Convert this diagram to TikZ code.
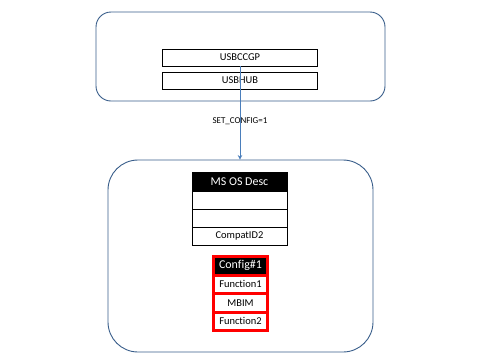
\documentclass[tikz,border=0pt]{standalone}
\usepackage{fontspec}
\setmainfont[Ligatures=NoCommon]{Carlito}
\usetikzlibrary{arrows.meta,positioning}
\definecolor{boxblue}{RGB}{56,93,138}
\definecolor{arrowblue}{RGB}{74,126,187}
\tikzset{
  hostbox/.style={rectangle, rounded corners=15bp, draw=boxblue, line width=0.9bp,
                  minimum width=289bp, minimum height=89bp},
  devbox/.style ={rectangle, rounded corners=30bp, draw=boxblue, line width=0.9bp,
                  minimum width=265bp, minimum height=192bp},
  drvcell/.style={rectangle, draw=black, line width=0.8bp, outer sep=0pt, inner sep=0pt,
                  minimum width=155bp, minimum height=17bp,
                  font=\fontsize{10.5}{12}\selectfont},
  desccell/.style={rectangle, draw=black, fill=white, line width=0.8bp, outer sep=0pt,
                   inner sep=0pt, minimum width=95bp, minimum height=18bp,
                   font=\fontsize{10.5}{12}\selectfont},
  deschead/.style={desccell, fill=black, text=white, minimum height=19bp,
                   font=\fontsize{12}{14}\selectfont},
  cfgcell/.style={rectangle, draw=red, fill=white, line width=3bp, outer sep=0pt,
                  inner sep=0pt, minimum width=54bp, minimum height=18.5bp,
                  font=\fontsize{10.5}{12}\selectfont},
  cfghead/.style={cfgcell, fill=black, text=white, font=\fontsize{12}{14}\selectfont},
  cfgline/.style={-{Stealth[length=4.5bp,width=4.5bp]}, arrowblue, line width=1bp},
}
\begin{document}
\begin{tikzpicture}[x=1bp,y=-1bp]
  \useasboundingbox (0,0) rectangle (480,360);
  % host side
  \node[hostbox] (host) at (240.5,56.5) {};
  \node[drvcell] (ccgp) at (240,57.5) {USBCCGP};
  \node[drvcell, below=6bp of ccgp] (hub) {USBHUB};
  % device side
  \node[devbox] (dev) at (240.5,256) {};
  \node[deschead] (desc) at (239.5,181.5) {MS OS Desc};
  \node[desccell, below=0pt of desc] (desc1) {};
  \node[desccell, below=0pt of desc1] (desc2) {};
  \node[desccell, below=0pt of desc2] (compat) {CompatID2};
  \node[cfghead] (cfg) at (240.5,265.75) {Config\#1};
  \node[cfgcell, below=0pt of cfg] (fn1) {Function1};
  \node[cfgcell, below=0pt of fn1] (mbim) {MBIM};
  \node[cfgcell, below=0pt of mbim] (fn2) {Function2};
  % request
  \draw[cfgline] (ccgp.south) -- (ccgp.south |- dev.north)
    node[pos=0.585, text=black, font=\fontsize{9}{11}\selectfont] {SET\_CONFIG=1};
\end{tikzpicture}
\end{document}
